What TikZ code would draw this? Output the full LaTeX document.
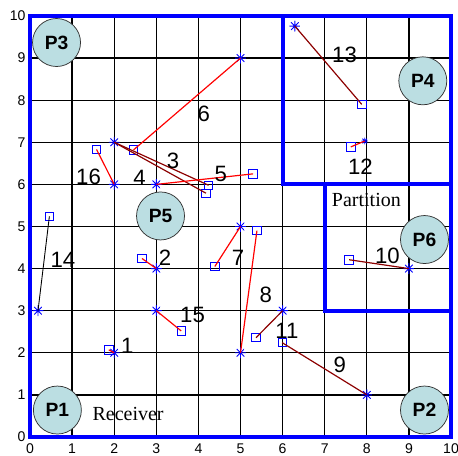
\documentclass[tikz,border=0pt]{standalone}
\usepackage{fontspec}
\setmainfont{Liberation Serif}
\setsansfont{Liberation Sans}
\definecolor{brownline}{RGB}{140,0,0}
\definecolor{circfill}{RGB}{187,222,226}
\begin{document}
\begin{tikzpicture}[x=1cm,y=1cm,
  gridline/.style={black, line width=0.85pt},
  wall/.style={blue, line width=2.7pt},
  redl/.style={red, line width=0.8pt},
  brownl/.style={brownline, line width=0.8pt},
  blackl/.style={black, line width=0.6pt},
  sq/.style={draw=blue, minimum size=0.2cm, inner sep=0pt, line width=0.6pt},
  ast/.style={circle, minimum size=0.26cm, inner sep=0pt,
    path picture={\draw[blue, line width=0.6pt]
      (path picture bounding box.south) -- (path picture bounding box.north)
      (path picture bounding box.west) -- (path picture bounding box.east)
      (path picture bounding box.south west) -- (path picture bounding box.north east)
      (path picture bounding box.north west) -- (path picture bounding box.south east);}},
  smallast/.style={ast, minimum size=0.16cm},
  num/.style={font=\sffamily\fontsize{15}{15}\selectfont, inner sep=0pt},
  tick/.style={font=\sffamily\fontsize{9.5}{10}\selectfont, inner sep=0pt},
  room/.style={circle, draw=black!80, line width=0.5pt, fill=circfill, minimum size=1.14cm, inner sep=0pt, font=\sffamily\bfseries\fontsize{13}{13}\selectfont},
  txt/.style={font=\rmfamily\fontsize{13.5}{14}\selectfont, inner sep=0pt}
]
\useasboundingbox (-0.713,-0.43) rectangle (10.166,10.38);
% grid
\foreach \i in {1,...,9} {
  \draw[gridline] (\i,0) -- (\i,10);
  \draw[gridline] (0,\i) -- (10,\i);
}
% tick labels
\foreach \i in {0,...,10} {
  \node[tick] (xt\i) at (\i,-0.27) {\i};
  \node[tick, anchor=east] (yt\i) at (-0.1,\i) {\i};
}
% rooms
\node[room] (P1) at (0.65,0.64) {P1};
\node[room] (P2) at (9.37,0.64) {P2};
\node[room] (P3) at (0.63,9.37) {P3};
\node[room] (P4) at (9.33,8.46) {P4};
\node[room] (P5) at (3.10,5.25) {P5};
\node[room] (P6) at (9.37,4.69) {P6};
% texts
\node[txt] (part) at (7.99,5.62) {Partition};
\node[txt] (recv) at (2.33,0.55) {Receiver};
% markers
\node[ast] (a1) at (2,2) {};      \node[sq] (s1) at (1.87,2.07) {};
\node[ast] (a2) at (3,4) {};      \node[sq] (s2) at (2.66,4.24) {};
\node[ast] (a3) at (2,7) {};      \node[sq] (s3) at (4.24,5.98) {};
                                  \node[sq] (s4) at (4.18,5.79) {};
\node[ast] (a5) at (3,6) {};      \node[sq] (s5) at (5.30,6.25) {};
\node[ast] (a6) at (5,9) {};      \node[sq] (s6) at (2.46,6.82) {};
\node[ast] (a7) at (5,5) {};      \node[sq] (s7) at (4.39,4.05) {};
\node[ast] (a8) at (5,2) {};      \node[sq] (s8) at (5.39,4.90) {};
\node[ast] (a9) at (8,1) {};      \node[sq] (s9) at (5.99,2.24) {};
\node[ast] (a10) at (9,4) {};     \node[sq] (s10) at (7.58,4.21) {};
\node[ast] (a11) at (6,3) {};     \node[sq] (s11) at (5.37,2.36) {};
\node[smallast] (a12) at (7.95,7.03) {}; \node[sq] (s12) at (7.62,6.89) {};
\node[ast] (a13) at (6.29,9.76) {}; \node[sq] (s13) at (7.88,7.90) {};
\node[ast] (a14) at (0.19,3.0) {};  \node[sq] (s14) at (0.46,5.24) {};
\node[ast] (a15) at (3,3) {};     \node[sq] (s15) at (3.59,2.52) {};
\node[ast] (a16) at (2,6) {};     \node[sq] (s16) at (1.58,6.83) {};
% connectors
\draw[redl] (a1.center) -- (s1.center);
\draw[redl] (a2.center) -- (s2.center);
\draw[brownl] (a3.center) -- (s3.center);
\draw[brownl] (a3.center) -- (s4.center);
\draw[redl] (a5.center) -- (s5.center);
\draw[redl] (a6.center) -- (s6.center);
\draw[redl] (a7.center) -- (s7.center);
\draw[redl] (a8.center) -- (s8.center);
\draw[brownl] (a9.center) -- (s9.center);
\draw[brownl] (a10.center) -- (s10.center);
\draw[brownl] (a11.center) -- (s11.center);
\draw[redl] (a12.center) -- (s12.center);
\draw[brownl] (a13.center) -- (s13.center);
\draw[blackl] (a14.center) -- (s14.center);
\draw[redl] (a15.center) -- (s15.center);
\draw[redl] (a16.center) -- (s16.center);
% numbers
\node[num] (n1) at (2.31,2.17) {1};
\node[num] (n2) at (3.21,4.25) {2};
\node[num] (n3) at (3.40,6.57) {3};
\node[num] (n4) at (2.60,6.16) {4};
\node[num] (n5) at (4.53,6.24) {5};
\node[num] (n6) at (4.13,7.67) {6};
\node[num] (n7) at (4.94,4.25) {7};
\node[num] (n8) at (5.60,3.38) {8};
\node[num] (n9) at (7.36,1.71) {9};
\node[num] (n10) at (8.49,4.31) {10};
\node[num] (n11) at (6.10,2.51) {11};
\node[num] (n12) at (7.85,6.41) {12};
\node[num] (n13) at (7.47,9.07) {13};
\node[num] (n14) at (0.78,4.21) {14};
\node[num] (n15) at (3.86,2.89) {15};
\node[num] (n16) at (1.39,6.18) {16};
% walls
\draw[wall] (6,10) -- (6,6) -- (10,6);
\draw[wall] (7,6) -- (7,3) -- (10,3);
\draw[wall] (0,0) rectangle (10,10);
\end{tikzpicture}
\end{document}
